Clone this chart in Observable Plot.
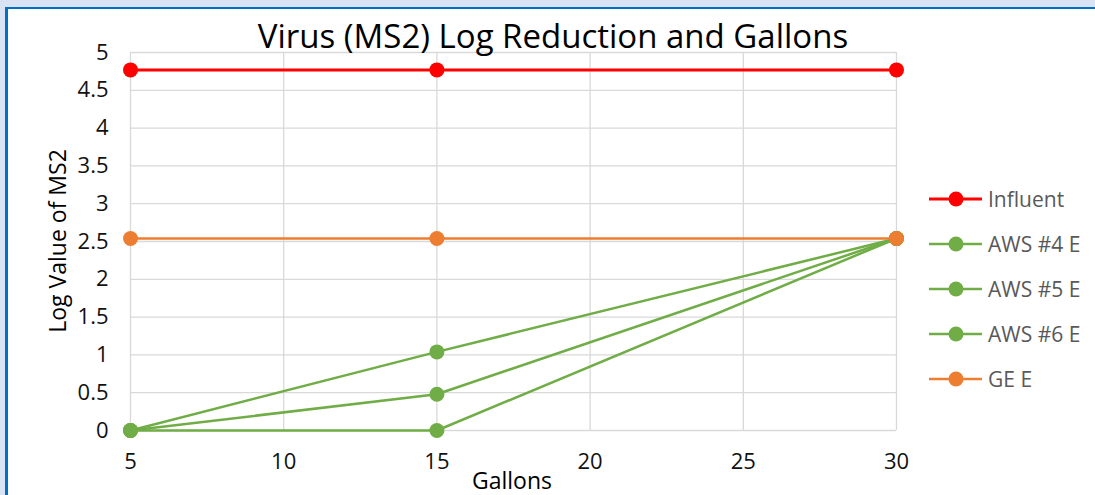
<!DOCTYPE html>
<html>
<head>
<meta charset="utf-8">
<script src="https://cdn.jsdelivr.net/npm/d3@7"></script>
<script src="https://cdn.jsdelivr.net/npm/@observablehq/plot@0.6"></script>
<style>
  html, body { margin: 0; padding: 0; }
  body { width: 1095px; height: 495px; overflow: hidden; background: #dae3f3; position: relative; font-family: "Open Sans", sans-serif; }
  #panel { position: absolute; left: 5px; top: 7px; right: 0; bottom: 0; background: #fff; border-left: 3px solid #0070c0; border-top: 2px solid #0070c0; }
  #chart { position: absolute; left: 0; top: 0; }
</style>
</head>
<body>
<div id="panel"></div>
<div id="chart"></div>
<script>
const gallons = [5, 15, 30];
const seriesNames = ["Influent", "AWS #4 E", "AWS #5 E", "AWS #6 E", "GE E"];
const influent = [4.77, 4.77, 4.77];
const aws4 = [0, 1.04, 2.54];
const aws5 = [0, 0.48, 2.54];
const aws6 = [0, 0, 2.54];
const geE = [2.54, 2.54, 2.54];
const seriesColors = ["#ff0000", "#70ad47", "#70ad47", "#70ad47", "#ed7d31"];
const seriesWidths = [3, 2.5, 2.5, 2.5, 2.5];
const xTicks = [5, 10, 15, 20, 25, 30];
const yTicks = [0, 0.5, 1, 1.5, 2, 2.5, 3, 3.5, 4, 4.5, 5];
const titleText = "Virus (MS2) Log Reduction and Gallons";
const xLabel = "Gallons";
const yLabel = "Log Value of MS2";

const allValues = [influent, aws4, aws5, aws6, geE];
const series = seriesNames.map((name, i) => ({
  name, color: seriesColors[i], width: seriesWidths[i],
  rows: gallons.map((g, j) => ({g, v: allValues[i][j]}))
}));

const marks = [
  Plot.ruleX(xTicks, {stroke: "#d9d9d9", strokeWidth: 1.3, strokeOpacity: 1}),
  Plot.ruleY(yTicks, {stroke: "#d9d9d9", strokeWidth: 1.3, strokeOpacity: 1}),
  Plot.axisX({ticks: xTicks, tickSize: 0, tickPadding: 23, tickFormat: d => String(d), fill: "#111", fontSize: 22}),
  Plot.axisY({ticks: yTicks, tickSize: 0, tickPadding: 22, tickFormat: d => String(d), fill: "#111", fontSize: 22}),
];
for (const s of series) {
  marks.push(Plot.line(s.rows, {x: "g", y: "v", stroke: s.color, strokeWidth: s.width}));
  marks.push(Plot.dot(s.rows, {x: "g", y: "v", fill: s.color, r: 7.5}));
}

const plot = Plot.plot({
  width: 1095,
  height: 495,
  marginLeft: 130,
  marginRight: 199,
  marginTop: 52,
  marginBottom: 65,
  x: {domain: [5, 30], label: null},
  y: {domain: [0, 5], label: null},
  style: {background: "transparent", fontFamily: "'Open Sans', sans-serif", overflow: "visible"},
  marks
});
document.getElementById("chart").appendChild(plot);

const svg = d3.select(plot);
svg.append("text").attr("x", 553).attr("y", 48).attr("text-anchor", "middle")
  .attr("font-size", 33).attr("fill", "#000").text(titleText);
svg.append("text").attr("x", 512).attr("y", 489).attr("text-anchor", "middle")
  .attr("font-size", 23).attr("fill", "#000").text(xLabel);
svg.append("text").attr("transform", "translate(66,241) rotate(-90)").attr("text-anchor", "middle")
  .attr("font-size", 23).attr("fill", "#000").text(yLabel);

const legend = svg.append("g");
series.forEach((s, i) => {
  const y = 199 + i * 45;
  const g = legend.append("g");
  g.append("line").attr("x1", 929).attr("x2", 982).attr("y1", y).attr("y2", y)
    .attr("stroke", s.color).attr("stroke-width", s.width);
  g.append("circle").attr("cx", 956).attr("cy", y).attr("r", 7.5).attr("fill", s.color);
  g.append("text").attr("x", 988).attr("y", y).attr("dy", "0.36em").attr("text-anchor", "start")
    .attr("font-size", 21).attr("fill", "#595959").text(s.name);
});
</script>
</body>
</html>
